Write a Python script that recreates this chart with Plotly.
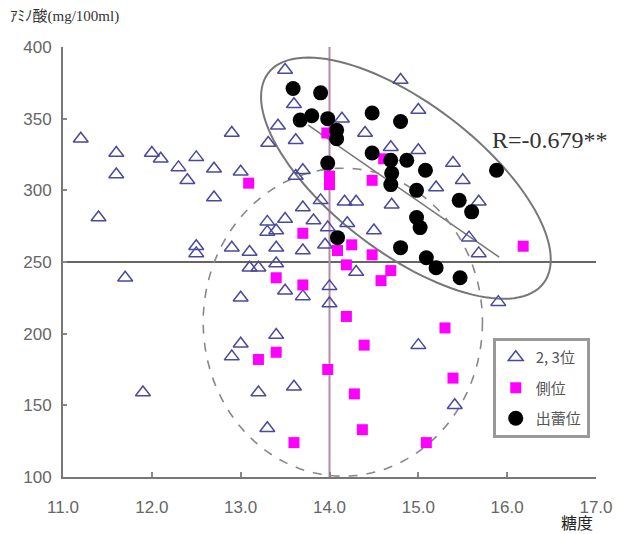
import math
import plotly.graph_objects as go

# ---------------- data ----------------
tri_x = [11.2, 11.6, 11.6, 11.4, 11.7, 11.9,
         12.0, 12.1, 12.3, 12.4, 12.5, 12.7, 12.7, 12.9, 13.0,
         12.5, 12.5, 12.9, 13.1, 13.1, 13.2, 13.0, 13.0, 12.9, 13.2, 13.3, 13.4, 13.6,
         13.3, 13.5, 13.3, 13.4, 13.4, 13.4, 13.5, 13.7, 13.7, 13.7, 13.82, 13.98, 13.95,
         14.0, 14.0, 14.2, 14.5, 14.3,
         13.9, 14.17, 14.3, 14.7, 13.62, 13.7,
         13.5, 13.6, 13.42, 13.62, 13.31, 14.14, 14.4, 14.8, 15.0, 14.69, 15.0, 15.39,
         15.5, 15.2, 15.68, 15.57, 15.68, 15.9, 15.0, 15.41]
tri_y = [336, 326, 311, 281, 239, 159,
         326, 322, 316, 307, 323, 315, 295, 340, 313,
         261, 256, 260, 257, 246, 246, 225, 193, 184, 159, 134, 199, 163,
         278, 280, 271, 272, 260, 249, 230, 226, 258, 288, 279, 274, 262,
         233, 221, 277, 272, 243,
         293, 292, 292, 290, 310, 314,
         384, 360, 345, 335, 333, 350, 340, 377, 356, 330, 328, 319,
         307, 302, 292, 267, 256, 222, 192, 150]

sq_x = [13.09, 13.7, 13.97, 14.0, 14.0, 14.48, 14.61, 16.18,
        14.09, 14.25, 14.48, 14.19, 14.69, 14.58, 13.4, 13.7,
        14.19, 15.3, 14.39, 13.98, 15.39, 14.28, 14.37, 15.09, 13.2, 13.4, 13.6]
sq_y = [305, 270, 340, 310, 304, 307, 322, 261,
        258, 262, 255, 248, 244, 237, 239, 234,
        212, 204, 192, 175, 169, 158, 133, 124, 182, 187, 124]

dot_x = [13.59, 13.9, 13.67, 13.8, 13.98, 14.08, 14.08, 14.48, 14.8,
         13.98, 14.48, 14.69, 14.87, 14.7, 14.69, 14.98, 15.08,
         14.98, 15.02, 15.46, 15.6, 15.88, 14.09, 14.8, 15.09, 15.2, 15.47]
dot_y = [371, 368, 349, 352, 350, 342, 336, 354, 348,
         319, 326, 321, 321, 312, 304, 300, 314,
         281, 274, 293, 285, 314, 267, 260, 253, 246, 239]

series_names = ["2, 3位", "側位", "出蕾位"]
x_ticks = [11, 12, 13, 14, 15, 16, 17]
x_tick_text = ["11.0", "12.0", "13.0", "14.0", "15.0", "16.0", "17.0"]
y_ticks = [100, 150, 200, 250, 300, 350, 400]

# reference lines / regression
h_ref = 250
v_ref = 14.0
reg_x = [13.76, 15.91]
reg_y = [345.5, 253.4]
r_text = "R=-0.679**"

# ---------------- layout geometry ----------------
# page body has an 8px margin, so the figure is 8px smaller and margins shifted
W, H = 617, 526
ML, MR, MT, MB = 55, 20, 39, 57
XR = [11, 17]
YR = [100, 400]
PW = W - ML - MR
PH = H - MT - MB
sx = PW / (XR[1] - XR[0])
sy = PH / (YR[1] - YR[0])


def ellipse_path(cx, cy, a_px, b_px, ang_deg, n=120):
    # ellipse defined in screen space (pixels), centred on a data point
    th = math.radians(ang_deg)
    pts = []
    for i in range(n + 1):
        t = 2 * math.pi * i / n
        dx = a_px * math.cos(t) * math.cos(th) - b_px * math.sin(t) * math.sin(th)
        dy = a_px * math.cos(t) * math.sin(th) + b_px * math.sin(t) * math.cos(th)
        pts.append((cx + dx / sx, cy - dy / sy))
    return "M " + " L ".join(f"{x:.4f},{y:.3f}" for x, y in pts) + " Z"


fig = go.Figure()

fig.add_trace(go.Scatter(
    x=tri_x, y=tri_y, mode="markers", name=series_names[0],
    legendgroup="a",
    marker=dict(symbol="triangle-up-open", size=13, color="#4a4a9c",
                line=dict(width=1.5, color="#4a4a9c")),
))
fig.add_trace(go.Scatter(
    x=sq_x, y=sq_y, mode="markers", name=series_names[1],
    legendgroup="b",
    marker=dict(symbol="square", size=11, color="#ff00ff", line=dict(width=0)),
))
fig.add_trace(go.Scatter(
    x=dot_x, y=dot_y, mode="markers", name=series_names[2],
    legendgroup="c",
    marker=dict(symbol="circle", size=15, color="#000000", line=dict(width=0)),
))

shapes = [
    dict(type="line", xref="x", yref="y", x0=XR[0], x1=XR[1], y0=h_ref, y1=h_ref,
         line=dict(color="#666666", width=2), layer="below"),
    dict(type="line", xref="x", yref="y", x0=v_ref, x1=v_ref, y0=YR[0], y1=YR[1],
         line=dict(color="#b888a8", width=2), layer="below"),
    dict(type="line", xref="x", yref="y", x0=reg_x[0], x1=reg_x[1], y0=reg_y[0], y1=reg_y[1],
         line=dict(color="#777777", width=1.5), layer="below"),
    dict(type="path", xref="x", yref="y",
         path=ellipse_path(14.86, 308.5, 175, 75, 36.7),
         line=dict(color="#777777", width=2), layer="below"),
    dict(type="path", xref="x", yref="y",
         path=ellipse_path(14.15, 208, 142, 154, 0),
         line=dict(color="#888888", width=1.6, dash="dash"), layer="below"),
]

annotations = [
    dict(x=15.81, y=335, xref="x", yref="y", text=r_text, showarrow=False,
         xanchor="left", yanchor="middle",
         font=dict(family="Liberation Serif", size=24, color="#333333")),
    dict(x=-0.103, y=1.07, xref="paper", yref="paper", text="ｱﾐﾉ酸(mg/100ml)",
         showarrow=False, xanchor="left", yanchor="middle",
         font=dict(family="Liberation Serif, Noto Sans CJK JP", size=15, color="#333333")),
    dict(x=0.965, y=-0.104, xref="paper", yref="paper", text="糖度",
         showarrow=False, xanchor="center", yanchor="middle",
         font=dict(family="Noto Sans CJK JP", size=16, color="#222222")),
]

fig.update_layout(
    width=W, height=H,
    margin=dict(l=ML, r=MR, t=MT, b=MB),
    paper_bgcolor="white", plot_bgcolor="white",
    shapes=shapes, annotations=annotations,
    showlegend=True,
    legend=dict(x=(500 - 63) / PW, y=(477 - 338) / PH,
                xanchor="left", yanchor="top",
                bordercolor="#999999", borderwidth=3, bgcolor="white",
                font=dict(family="Noto Sans CJK JP", size=15, color="#555555"),
                traceorder="grouped", tracegroupgap=8, itemwidth=30),
    xaxis=dict(range=XR, tickvals=x_ticks, ticktext=x_tick_text,
               showgrid=False, zeroline=False,
               showline=True, linecolor="#777777", linewidth=2,
               ticks="inside", ticklen=5, tickwidth=1.5, tickcolor="#888888",
               ticklabelstandoff=14,
               tickfont=dict(family="Liberation Sans", size=17, color="#666666")),
    yaxis=dict(range=YR, tickvals=y_ticks,
               showgrid=False, zeroline=False,
               showline=True, linecolor="#777777", linewidth=2,
               ticks="inside", ticklen=4, tickwidth=1.5, tickcolor="#888888",
               ticklabelstandoff=6,
               tickfont=dict(family="Liberation Sans", size=17, color="#666666")),
)

fig.write_html("out.html")
